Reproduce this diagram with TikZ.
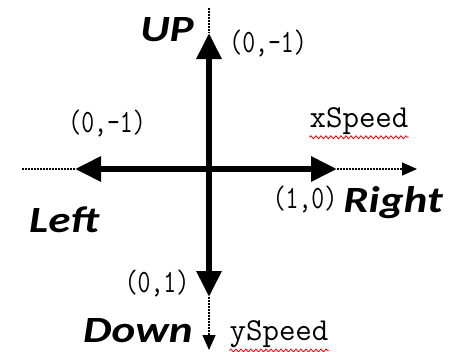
\documentclass[tikz,border=0pt]{standalone}
\usepackage{fontspec}
\usepackage{graphicx}
\usetikzlibrary{arrows.meta,decorations.pathmorphing}
\newfontfamily\dirfont{Carlito}
\newcommand{\dirtext}[1]{\scalebox{1.22}[1]{#1}}
\newcommand{\coordtext}[1]{\scalebox{1}[1.3]{#1}}

\begin{document}
\begin{tikzpicture}[x=1pt, y=-1pt,
    axis/.style={line width=6pt, {Triangle[length=26pt,width=24pt]}-{Triangle[length=26pt,width=24pt]}},
    extension/.style={line width=1.5pt, dash pattern=on 1.5pt off 1.5pt},
    dirlabel/.style={font=\dirfont\bfseries\itshape\fontsize{37}{37}\selectfont, inner sep=0pt, anchor=base},
    coordlabel/.style={font=\ttfamily\fontsize{25}{25}\selectfont, inner sep=0pt, anchor=base},
    speedlabel/.style={font=\ttfamily\fontsize{32}{32}\selectfont, inner sep=0pt, anchor=base},
    spellmark/.style={red, line width=0.8pt, decorate, decoration={snake, segment length=5pt, amplitude=1.5pt}}]
    \useasboundingbox (0,0) rectangle (452,351);
    % axes
    \coordinate (o) at (209,169);
    \coordinate (west) at (22,169);
    \coordinate (lefttip) at (75,169);
    \coordinate (righttip) at (337,169);
    \coordinate (east) at (417,169);
    \coordinate (north) at (209,8);
    \coordinate (uptip) at (209,33);
    \coordinate (downtip) at (209,297);
    \coordinate (south) at (209,350);
    \draw[axis] (lefttip) -- (righttip);
    \draw[axis] (uptip) -- (downtip);
    \draw[extension] (west) -- (lefttip);
    \draw[extension] (north) -- (uptip);
    \draw[extension, -{Triangle[length=15pt,width=13pt]}] (righttip) -- (east);
    \draw[extension, -{Triangle[length=15pt,width=13pt]}] (downtip) -- (south);
    % direction names
    \node[dirlabel] (up) at (167,41) {\dirtext{UP}};
    \node[dirlabel] (left) at (64,232) {\dirtext{Left}};
    \node[dirlabel] (right) at (393,212) {\dirtext{Right}};
    \node[dirlabel] (down) at (138,342) {\dirtext{Down}};
    % vectors
    \node[coordlabel] (upvec) at (268,52) {\coordtext{(0,-1)}};
    \node[coordlabel] (leftvec) at (107,132) {\coordtext{(0,-1)}};
    \node[coordlabel] (rightvec) at (305,208) {\coordtext{(1,0)}};
    \node[coordlabel] (downvec) at (157,292) {\coordtext{(0,1)}};
    \node[speedlabel] (xspeed) at (359,127) {xSpeed};
    \node[speedlabel] (yspeed) at (279,340) {ySpeed};
    \draw[spellmark] ([yshift=-3pt]xspeed.south west) -- ([yshift=-3pt]xspeed.south east);
    \draw[spellmark] ([yshift=-3pt]yspeed.south west) -- ([yshift=-3pt]yspeed.south east);
\end{tikzpicture}
\end{document}
